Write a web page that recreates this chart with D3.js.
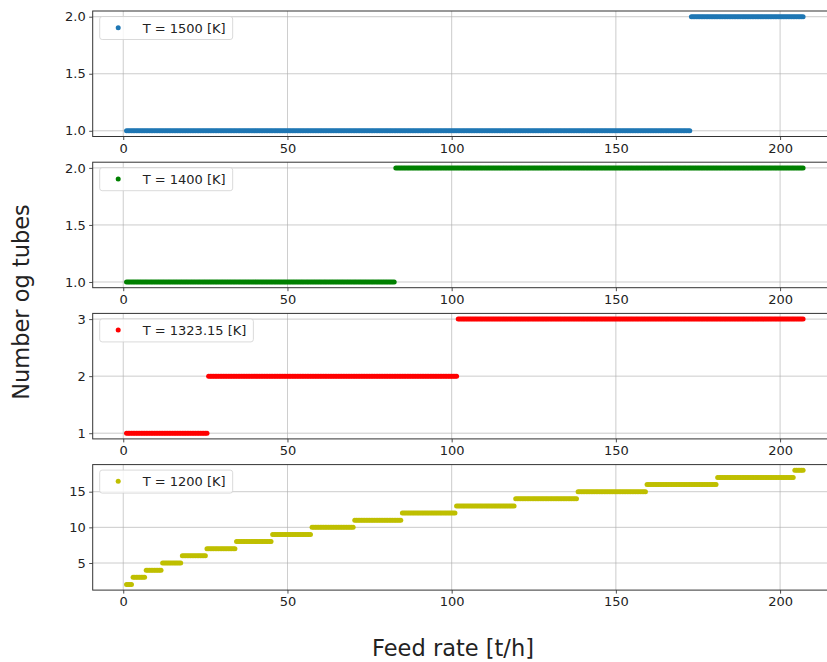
<!DOCTYPE html>
<html>
<head>
<meta charset="utf-8">
<script src="https://cdn.jsdelivr.net/npm/d3@7"></script>
<style>
  html, body { margin: 0; padding: 0; background: #fff; }
  svg { display: block; font-family: "DejaVu Sans", sans-serif; }
</style>
</head>
<body>
<svg id="chart" width="827" height="662"></svg>
<script>
// Feed-rate grid (t/h) used for every temperature
const feedStart = 1;
const feedEnd = 207;
const feedStep = 0.5;

// Number of tubes per feed-rate interval, one array per temperature
const tubes1500 = [
  { n: 1, from: 1, to: 172.5 },
  { n: 2, from: 173, to: 207 }
];
const tubes1400 = [
  { n: 1, from: 1, to: 82.5 },
  { n: 2, from: 83, to: 207 }
];
const tubes1323 = [
  { n: 1, from: 1, to: 25.5 },
  { n: 2, from: 26, to: 101.5 },
  { n: 3, from: 102, to: 207 }
];
const tubes1200 = [
  { n: 2, from: 1, to: 2.5 },
  { n: 3, from: 3, to: 6.5 },
  { n: 4, from: 7, to: 11.5 },
  { n: 5, from: 12, to: 17.5 },
  { n: 6, from: 18, to: 25 },
  { n: 7, from: 25.5, to: 34 },
  { n: 8, from: 34.5, to: 45 },
  { n: 9, from: 45.5, to: 57 },
  { n: 10, from: 57.5, to: 70 },
  { n: 11, from: 70.5, to: 84.5 },
  { n: 12, from: 85, to: 101 },
  { n: 13, from: 101.5, to: 119 },
  { n: 14, from: 119.5, to: 138 },
  { n: 15, from: 138.5, to: 159 },
  { n: 16, from: 159.5, to: 180.5 },
  { n: 17, from: 181, to: 204 },
  { n: 18, from: 204.5, to: 207 }
];

const legendLabels = ["T = 1500 [K]", "T = 1400 [K]", "T = 1323.15 [K]", "T = 1200 [K]"];
const seriesColors = ["#1f77b4", "#008000", "#ff0000", "#bfbf00"];
const xTicks = [0, 50, 100, 150, 200];
const yTicks = [[1.0, 1.5, 2.0], [1.0, 1.5, 2.0], [1, 2, 3], [5, 10, 15]];
const yTickFormats = [".1f", ".1f", "d", "d"];

const allSeries = [tubes1500, tubes1400, tubes1323, tubes1200];

// expand interval tables into (feed rate, tubes) points on the feed grid
function toPoints(segments) {
  const pts = [];
  segments.forEach(s => {
    for (let x = s.from; x <= s.to + 1e-9; x += feedStep) pts.push({ x, y: s.n });
  });
  return pts;
}

const svg = d3.select("#chart");

const left = 92.7;
const right = 836.9;
const panelH = 125.5;
const panelGap = 151.2;
const firstTop = 11;

// x extent with 5% margin around the data
const xPad = (feedEnd - feedStart) * 0.05;
const x = d3.scaleLinear().domain([feedStart - xPad, feedEnd + xPad]).range([left, right]);

allSeries.forEach((seg, i) => {
  const top = firstTop + i * panelGap;
  const bottom = top + panelH;
  const pts = toPoints(seg);
  const yMin = d3.min(pts, d => d.y), yMax = d3.max(pts, d => d.y);
  const yPad = (yMax - yMin) * 0.05;
  const y = d3.scaleLinear().domain([yMin - yPad, yMax + yPad]).range([bottom, top]);

  const g = svg.append("g");

  // grid
  g.append("g").selectAll("line.vx").data(xTicks).join("line")
    .attr("x1", d => x(d)).attr("x2", d => x(d))
    .attr("y1", top).attr("y2", bottom)
    .attr("stroke", "#b0b0b0").attr("stroke-width", 0.8).attr("opacity", 0.8);
  g.append("g").selectAll("line.hy").data(yTicks[i]).join("line")
    .attr("x1", left).attr("x2", right)
    .attr("y1", d => y(d)).attr("y2", d => y(d))
    .attr("stroke", "#b0b0b0").attr("stroke-width", 0.8).attr("opacity", 0.8);

  // points
  g.append("g").selectAll("circle").data(pts).join("circle")
    .attr("cx", d => x(d.x)).attr("cy", d => y(d.y))
    .attr("r", 2.5).attr("fill", seriesColors[i]);

  // axes
  const xAxis = d3.axisBottom(x).tickValues(xTicks).tickSize(3.5).tickPadding(3.5).tickFormat(d3.format("d"));
  const yAxis = d3.axisLeft(y).tickValues(yTicks[i]).tickSize(3.5).tickPadding(3.5).tickFormat(d3.format(yTickFormats[i]));

  const gx = g.append("g").attr("transform", `translate(0,${bottom})`).call(xAxis);
  const gy = g.append("g").attr("transform", `translate(${left},0)`).call(yAxis);
  [gx, gy].forEach(a => {
    a.select(".domain").remove();
    a.selectAll(".tick line").attr("stroke", "#222").attr("stroke-width", 0.8);
    a.selectAll(".tick text").attr("font-size", 13).attr("fill", "#222")
      .attr("font-family", "DejaVu Sans, sans-serif");
  });

  // frame
  g.append("rect").attr("x", left).attr("y", top)
    .attr("width", right - left).attr("height", panelH)
    .attr("fill", "none").attr("stroke", "#333").attr("stroke-width", 1);

  // legend
  const lg = g.append("g").attr("transform", `translate(${left + 7},${top + 5.5})`);
  const box = lg.append("rect").attr("rx", 2.5).attr("ry", 2.5)
    .attr("height", 23).attr("fill", "#fff").attr("fill-opacity", 0.8)
    .attr("stroke", "#d0d0d0").attr("stroke-width", 0.8);
  lg.append("circle").attr("cx", 18.5).attr("cy", 11.2).attr("r", 2.5).attr("fill", seriesColors[i]);
  const t = lg.append("text").attr("x", 43).attr("y", 16)
    .attr("font-size", 13).attr("fill", "#222").text(legendLabels[i]);
  box.attr("width", 43 + t.node().getComputedTextLength() + 7);
});

// shared axis titles
svg.append("text").attr("x", 453).attr("y", 656)
  .attr("text-anchor", "middle").attr("font-size", 22.5).attr("fill", "#222")
  .text("Feed rate [t/h]");
svg.append("text").attr("transform", "translate(29,302) rotate(-90)")
  .attr("text-anchor", "middle").attr("font-size", 22.5).attr("fill", "#222")
  .text("Number og tubes");
</script>
</body>
</html>
